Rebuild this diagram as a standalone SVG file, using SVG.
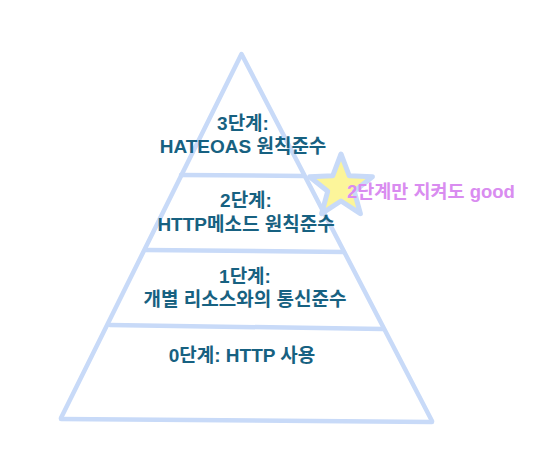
<svg xmlns="http://www.w3.org/2000/svg" width="538" height="460" viewBox="0 0 538 460">
<style>
.ln{stroke:#c8daf8;stroke-width:4.5;fill:none;stroke-linecap:round;stroke-linejoin:round}
.t{font-family:"Liberation Sans","Noto Sans CJK KR",sans-serif;font-weight:bold;font-size:19px;fill:#176181;text-anchor:middle}
.p{font-family:"Liberation Sans","Noto Sans CJK KR",sans-serif;font-weight:bold;font-size:18.5px;fill:#d98cf0}
</style>
<rect width="538" height="460" fill="#ffffff"/>
<g id="pyramid">
<polyline class="ln" points="61,418 241.5,54 432,421"/>
<line class="ln" x1="61" y1="419" x2="432" y2="422"/>
</g>
<g id="level3">
<line class="ln" x1="181" y1="175" x2="304" y2="176"/>
<text class="t" x="243" y="130">3단계:</text>
<text class="t" x="243" y="153">HATEOAS 원칙준수</text>
</g>
<g id="level2">
<line class="ln" x1="146" y1="250" x2="344" y2="252"/>
<text class="t" x="246" y="207">2단계:</text>
<text class="t" x="246" y="231">HTTP메소드 원칙준수</text>
</g>
<g id="level1">
<line class="ln" x1="110" y1="325" x2="383" y2="329"/>
<text class="t" x="245" y="283">1단계:</text>
<text class="t" x="245" y="306">개별 리소스와의 통신준수</text>
</g>
<g id="level0">
<text class="t" x="242" y="362">0단계: HTTP 사용</text>
</g>
<g id="star">
<polygon points="341,154 349.2,175.7 372.4,176.8 354.3,191.3 360.4,213.7 341,201 321.6,213.7 327.7,191.3 309.6,176.8 332.8,175.7" fill="#fcf59a" stroke="#c8daf8" stroke-width="5" stroke-linejoin="round"/>
</g>
<g id="note">
<text class="p" x="347" y="198">2단계만 지켜도 good</text>
</g>
</svg>
